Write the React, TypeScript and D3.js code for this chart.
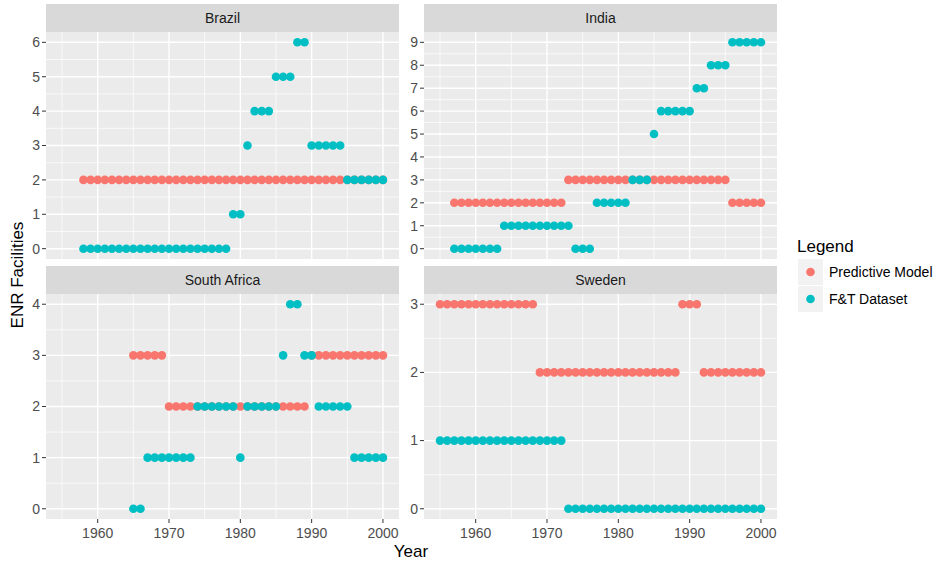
import * as d3 from "d3";

// ENR facilities per country, one value per consecutive year from the start year
const brazilStart = 1958;
const brazilModel = [2, 2, 2, 2, 2, 2, 2, 2, 2, 2, 2, 2, 2, 2, 2, 2, 2, 2, 2, 2, 2, 2, 2, 2, 2, 2, 2, 2, 2, 2, 2, 2, 2, 2, 2, 2, 2, 2, 2, 2, 2, 2, 2];
const brazilFT = [0, 0, 0, 0, 0, 0, 0, 0, 0, 0, 0, 0, 0, 0, 0, 0, 0, 0, 0, 0, 0, 1, 1, 3, 4, 4, 4, 5, 5, 5, 6, 6, 3, 3, 3, 3, 3, 2, 2, 2, 2, 2, 2];

const indiaStart = 1957;
const indiaModel = [2, 2, 2, 2, 2, 2, 2, 2, 2, 2, 2, 2, 2, 2, 2, 2, 3, 3, 3, 3, 3, 3, 3, 3, 3, 3, 3, 3, 3, 3, 3, 3, 3, 3, 3, 3, 3, 3, 3, 2, 2, 2, 2, 2];
const indiaFT = [0, 0, 0, 0, 0, 0, 0, 1, 1, 1, 1, 1, 1, 1, 1, 1, 1, 0, 0, 0, 2, 2, 2, 2, 2, 3, 3, 3, 5, 6, 6, 6, 6, 6, 7, 7, 8, 8, 8, 9, 9, 9, 9, 9];

const southAfricaStart = 1965;
const southAfricaModel = [3, 3, 3, 3, 3, 2, 2, 2, 2, 2, 2, 2, 2, 2, 2, 2, 2, 2, 2, 2, 2, 2, 2, 2, 2, 3, 3, 3, 3, 3, 3, 3, 3, 3, 3, 3];
const southAfricaFT = [0, 0, 1, 1, 1, 1, 1, 1, 1, 2, 2, 2, 2, 2, 2, 1, 2, 2, 2, 2, 2, 3, 4, 4, 3, 3, 2, 2, 2, 2, 2, 1, 1, 1, 1, 1];

const swedenStart = 1955;
const swedenModel = [3, 3, 3, 3, 3, 3, 3, 3, 3, 3, 3, 3, 3, 3, 2, 2, 2, 2, 2, 2, 2, 2, 2, 2, 2, 2, 2, 2, 2, 2, 2, 2, 2, 2, 3, 3, 3, 2, 2, 2, 2, 2, 2, 2, 2, 2];
const swedenFT = [1, 1, 1, 1, 1, 1, 1, 1, 1, 1, 1, 1, 1, 1, 1, 1, 1, 1, 0, 0, 0, 0, 0, 0, 0, 0, 0, 0, 0, 0, 0, 0, 0, 0, 0, 0, 0, 0, 0, 0, 0, 0, 0, 0, 0, 0];

const xTicks = [1960, 1970, 1980, 1990, 2000];
const seriesNames = ["Predictive Model", "F&T Dataset"];
const seriesColors = ["#F8766D", "#00BFC4"];

const panels = [
  { name: "Brazil", start: brazilStart, model: brazilModel, ft: brazilFT, yMax: 6 },
  { name: "India", start: indiaStart, model: indiaModel, ft: indiaFT, yMax: 9 },
  { name: "South Africa", start: southAfricaStart, model: southAfricaModel, ft: southAfricaFT, yMax: 4 },
  { name: "Sweden", start: swedenStart, model: swedenModel, ft: swedenFT, yMax: 3 },
];

const W = 937;
const H = 563;
const colX = [[46, 399], [424, 777]];
const rowY = [[32, 259], [294, 519]];
const stripH = 28;
const font = "'Liberation Sans', Arial, sans-serif";

function Panel({ p, col, row }: { p: any; col: number; row: number }) {
  const [x0, x1] = colX[col];
  const [y0, y1] = rowY[row];
  const x = d3.scaleLinear().domain([1952.75, 2002.25]).range([x0, x1]);
  const pad = p.yMax * 0.05;
  const y = d3.scaleLinear().domain([-pad, p.yMax + pad]).range([y1, y0]);
  const yTicks = d3.range(0, p.yMax + 1);
  const yMinor = d3.range(0, p.yMax).map((v) => v + 0.5);
  const xMinor = [1955, 1965, 1975, 1985, 1995];
  const pts = (vals: number[]) => vals.map((v, i) => ({ year: p.start + i, v }));

  return (
    <g>
      <rect x={x0} y={y0 - stripH} width={x1 - x0} height={stripH} fill="#D9D9D9" />
      <text x={(x0 + x1) / 2} y={y0 - stripH / 2} dy="0.35em" textAnchor="middle" fontSize={14} fill="#1A1A1A">
        {p.name}
      </text>
      <rect x={x0} y={y0} width={x1 - x0} height={y1 - y0} fill="#EBEBEB" />
      {xMinor.map((t) => (
        <line key={"xm" + t} x1={x(t)} x2={x(t)} y1={y0} y2={y1} stroke="#fff" strokeWidth={0.7} />
      ))}
      {yMinor.map((t) => (
        <line key={"ym" + t} x1={x0} x2={x1} y1={y(t)} y2={y(t)} stroke="#fff" strokeWidth={0.7} />
      ))}
      {xTicks.map((t) => (
        <line key={"xM" + t} x1={x(t)} x2={x(t)} y1={y0} y2={y1} stroke="#fff" strokeWidth={1.4} />
      ))}
      {yTicks.map((t) => (
        <line key={"yM" + t} x1={x0} x2={x1} y1={y(t)} y2={y(t)} stroke="#fff" strokeWidth={1.4} />
      ))}
      {[p.model, p.ft].map((vals: number[], si: number) =>
        pts(vals).map((d) => (
          <circle key={si + "-" + d.year} cx={x(d.year)} cy={y(d.v)} r={4.3} fill={seriesColors[si]} />
        ))
      )}
      {yTicks.map((t) => (
        <g key={"yt" + t}>
          <line x1={x0 - 4} x2={x0} y1={y(t)} y2={y(t)} stroke="#333" strokeWidth={1} />
          <text x={x0 - 6} y={y(t)} dy="0.35em" textAnchor="end" fontSize={14} fill="#4D4D4D">
            {t}
          </text>
        </g>
      ))}
      {row === 1 &&
        xTicks.map((t) => (
          <g key={"xt" + t}>
            <line x1={x(t)} x2={x(t)} y1={y1} y2={y1 + 4} stroke="#333" strokeWidth={1} />
            <text x={x(t)} y={y1 + 14} dy="0.35em" textAnchor="middle" fontSize={14} fill="#4D4D4D">
              {t}
            </text>
          </g>
        ))}
    </g>
  );
}

export default function App() {
  return (
    <svg width={W} height={H} style={{ display: "block", position: "absolute", left: 0, top: 0 }} fontFamily={font}>
      <rect width={W} height={H} fill="#fff" />
      {panels.map((p, i) => (
        <Panel key={p.name} p={p} col={i % 2} row={Math.floor(i / 2)} />
      ))}
      <text x={411} y={551} dy="0.35em" textAnchor="middle" fontSize={17} fill="#000">
        Year
      </text>
      <text transform="translate(17,275) rotate(-90)" dy="0.35em" textAnchor="middle" fontSize={17} fill="#000">
        ENR Facilities
      </text>
      <text x={797} y={246} dy="0.35em" fontSize={17} fill="#000">
        Legend
      </text>
      {seriesNames.map((s, i) => (
        <g key={s}>
          <rect x={798} y={259 + i * 27} width={25} height={26} fill="#F2F2F2" />
          <circle cx={810.5} cy={272 + i * 27} r={4.3} fill={seriesColors[i]} />
          <text x={829} y={272 + i * 27} dy="0.35em" fontSize={14} fill="#000">
            {s}
          </text>
        </g>
      ))}
    </svg>
  );
}
